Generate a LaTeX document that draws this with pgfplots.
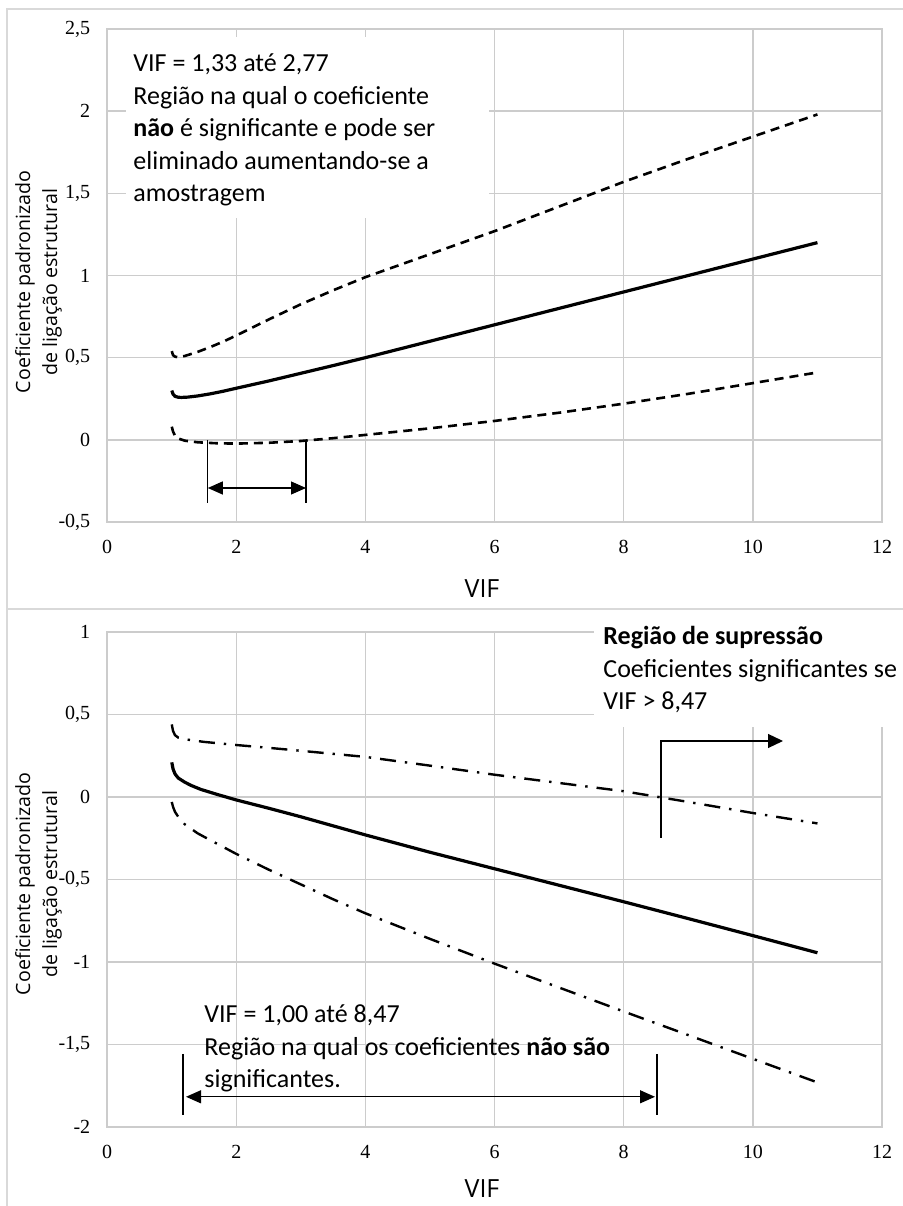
\documentclass[border=0pt]{standalone}
\usepackage{fontspec}
\setmainfont{Carlito}
\newfontfamily\tnr{Liberation Serif}
\newfontfamily\osans{Open Sans}
\usepackage{pgfplots}
\pgfplotsset{compat=1.18}
\usetikzlibrary{arrows.meta}

\definecolor{gridc}{RGB}{204,204,204}
\definecolor{framec}{RGB}{217,217,217}

\pgfplotsset{
 myaxis/.style={
  scale only axis, width=387.4pt,
  xmin=0, xmax=12, xtick={0,2,4,6,8,10,12},
  grid=major, major grid style={gridc, line width=0.7pt},
  axis line style={gridc, line width=0.7pt},
  major tick length=0pt,
  ticklabel style={font=\tnr\fontsize{10}{12}\selectfont},
  xticklabel style={anchor=north, inner sep=0pt, yshift=-9pt},
  yticklabel style={anchor=east, inner sep=0pt, xshift=-8.3pt},
  /pgf/number format/.cd, use comma, 1000 sep={}, assume math mode=true,
 },
}

\newcommand{\annfont}{\fontsize{13}{16}\selectfont}
\tikzset{ann/.style={anchor=base west, inner sep=0pt, font=\annfont},
 ylab/.style={rotate=90, anchor=center, inner sep=0pt, font=\osans\fontsize{9.8}{12}\selectfont},
 tri/.style={line width=0.6pt}}

\begin{document}
\begin{tikzpicture}
\useasboundingbox (0,0) rectangle (451.5pt,603pt);
% frames
\draw[framec, line width=1pt] (3.5pt,-3pt) -- (3.5pt,298.5pt) -- (455pt,298.5pt);
\draw[framec, line width=1pt] (455pt,298.5pt) -- (3.5pt,298.5pt) -- (3.5pt,598.5pt) -- (455pt,598.5pt);

% ---------------- top panel
\begin{axis}[myaxis, at={(53.6pt,342pt)}, anchor=south west, height=246.5pt,
  ymin=-0.5, ymax=2.5, ytick={-0.5,0,0.5,1,1.5,2,2.5}]
\addplot[black, line width=1.6pt] coordinates {(1.0,0.30)(1.02,0.278)(1.05,0.265)(1.1,0.259)(1.15,0.258)(1.25,0.26)(1.4,0.267)(1.6,0.28)(1.8,0.296)(2,0.314)(2.5,0.358)(3,0.405)(3.5,0.452)(4,0.50)(5,0.60)(6,0.70)(7,0.80)(8,0.90)(9,1.0)(10,1.1)(11,1.2)};
\addplot[black, line width=1.3pt, dash pattern=on 4.5pt off 3pt] coordinates {(1.0,0.54)(1.02,0.515)(1.05,0.506)(1.1,0.503)(1.2,0.51)(1.4,0.535)(1.6,0.565)(1.8,0.598)(2,0.635)(2.5,0.732)(3,0.825)(3.5,0.91)(4,0.99)(5,1.13)(6,1.27)(7,1.42)(8,1.57)(9,1.71)(10,1.845)(11,1.98)};
\addplot[black, line width=1.3pt, dash pattern=on 4.5pt off 3pt] coordinates {(1.0,0.08)(1.02,0.05)(1.05,0.025)(1.1,0.008)(1.2,-0.005)(1.4,-0.015)(1.7,-0.021)(2,-0.023)(2.5,-0.018)(3,-0.007)(3.5,0.01)(4,0.03)(5,0.07)(6,0.115)(7,0.165)(8,0.22)(9,0.28)(10,0.345)(11,0.41)};
\end{axis}

% ---------------- bottom panel
\begin{axis}[myaxis, at={(53.6pt,39.5pt)}, anchor=south west, height=247.5pt,
  ymin=-2, ymax=1, ytick={-2,-1.5,-1,-0.5,0,0.5,1}]
\addplot[black, line width=1.6pt] coordinates {(1.0,0.21)(1.02,0.17)(1.05,0.14)(1.1,0.115)(1.2,0.09)(1.3,0.07)(1.45,0.046)(1.7,0.016)(2,-0.018)(2.5,-0.068)(3,-0.12)(3.5,-0.175)(4,-0.23)(5,-0.335)(6,-0.435)(7,-0.535)(8,-0.635)(9,-0.737)(10,-0.84)(11,-0.944)};
\addplot[black, line width=1.2pt, dash pattern=on 8pt off 4.5pt on 1.2pt off 4.5pt] coordinates {(1.0,0.44)(1.02,0.40)(1.05,0.375)(1.1,0.36)(1.2,0.35)(1.5,0.334)(2,0.315)(2.5,0.298)(3,0.28)(4,0.243)(5,0.19)(6,0.135)(7,0.085)(8,0.035)(9,-0.03)(10,-0.097)(11,-0.16)};
\addplot[black, line width=1.2pt, dash pattern=on 8pt off 4.5pt on 1.2pt off 4.5pt] coordinates {(1.0,-0.03)(1.02,-0.06)(1.05,-0.09)(1.1,-0.12)(1.2,-0.165)(1.4,-0.22)(1.6,-0.262)(2,-0.345)(2.5,-0.44)(3,-0.53)(3.5,-0.62)(4,-0.705)(5,-0.86)(6,-1.01)(7,-1.155)(8,-1.3)(9,-1.443)(10,-1.587)(11,-1.73)};
\end{axis}

% axis titles
\node[ylab] at (12.5pt,462pt) {Coeficiente padronizado};
\node[ylab] at (26pt,462pt) {de ligação estrutural};
\node[ylab] at (12.5pt,161pt) {Coeficiente padronizado};
\node[ylab] at (26pt,161pt) {de ligação estrutural};
\node[anchor=base, inner sep=0pt, font=\osans\fontsize{12.5}{14}\selectfont] at (241pt,304pt) {VIF};
\node[anchor=base, inner sep=0pt, font=\osans\fontsize{12.5}{14}\selectfont] at (241pt,4.5pt) {VIF};

% top annotation
\fill[white] (63pt,494pt) rectangle (244.5pt,584.5pt);
\node[ann] at (66.5pt,567pt) {VIF = 1,33 até 2,77};
\node[ann] at (66.5pt,550.75pt) {Região na qual o coeficiente};
\node[ann] at (66.5pt,534.5pt) {\textbf{não} é significante e pode ser};
\node[ann] at (66.5pt,518.25pt) {eliminado aumentando-se a};
\node[ann] at (66.5pt,502pt) {amostragem};
\draw[tri] (103.9pt,383pt) -- (103.9pt,351.5pt);
\draw[tri] (153pt,383pt) -- (153pt,351.5pt);
\draw[tri, {Triangle[length=7.5pt,width=6.5pt]}-{Triangle[length=7.5pt,width=6.5pt]}] (103.9pt,359pt) -- (153pt,359pt);

% bottom right annotation
\fill[white] (297pt,239.5pt) rectangle (453pt,296.5pt);
\node[ann] at (301.5pt,280.5pt) {\textbf{Região de supressão}};
\node[ann] at (301.5pt,264pt) {Coeficientes significantes se};
\node[ann] at (301.5pt,248pt) {VIF > 8,47};
\draw[tri, -{Triangle[length=7.5pt,width=7pt]}] (330.5pt,184pt) -- (330.5pt,232.5pt) -- (391.5pt,232.5pt);

% bottom left annotation
\node[ann] at (102pt,91.5pt) {VIF = 1,00 até 8,47};
\node[ann] at (102pt,75pt) {Região na qual os coeficientes \textbf{não são}};
\node[ann] at (102pt,59pt) {significantes.};
\draw[tri] (91.5pt,76pt) -- (91.5pt,45.5pt);
\draw[tri] (328.5pt,76pt) -- (328.5pt,45.5pt);
\draw[tri, {Triangle[length=7.5pt,width=6.5pt]}-{Triangle[length=7.5pt,width=6.5pt]}] (93pt,54.6pt) -- (327.5pt,54.6pt);
\end{tikzpicture}
\end{document}
